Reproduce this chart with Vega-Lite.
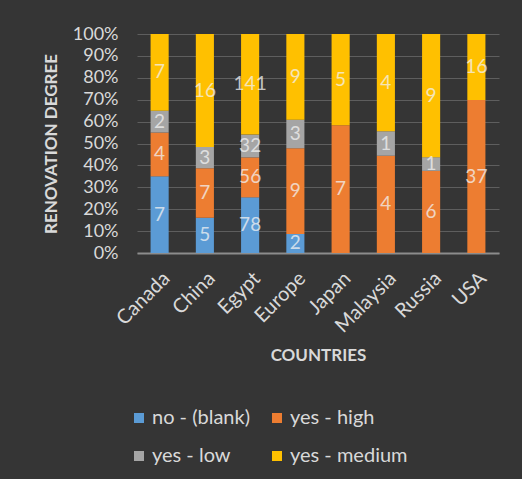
{
  "$schema": "https://vega.github.io/schema/vega-lite/v6.json",
  "width": 362,
  "height": 219,
  "autosize": {"type": "none"},
  "padding": {"left": 137, "top": 34, "right": 23, "bottom": 226},
  "background": "#353535",
  "config": {
    "font": "Lato",
    "view": {"stroke": null},
    "axis": {"labelColor": "#d9d9d9", "titleColor": "#d9d9d9", "labelFont": "Lato", "titleFont": "Lato"},
    "legend": {"labelColor": "#d9d9d9", "labelFont": "Lato"}
  },
  "data": {
    "values": [
      {"country": "Canada", "cat": "no - (blank)", "k": 1, "n": 7},
      {"country": "Canada", "cat": "yes - high", "k": 2, "n": 4},
      {"country": "Canada", "cat": "yes - low", "k": 3, "n": 2},
      {"country": "Canada", "cat": "yes - medium", "k": 4, "n": 7},
      {"country": "China", "cat": "no - (blank)", "k": 1, "n": 5},
      {"country": "China", "cat": "yes - high", "k": 2, "n": 7},
      {"country": "China", "cat": "yes - low", "k": 3, "n": 3},
      {"country": "China", "cat": "yes - medium", "k": 4, "n": 16},
      {"country": "Egypt", "cat": "no - (blank)", "k": 1, "n": 78},
      {"country": "Egypt", "cat": "yes - high", "k": 2, "n": 56},
      {"country": "Egypt", "cat": "yes - low", "k": 3, "n": 32},
      {"country": "Egypt", "cat": "yes - medium", "k": 4, "n": 141},
      {"country": "Europe", "cat": "no - (blank)", "k": 1, "n": 2},
      {"country": "Europe", "cat": "yes - high", "k": 2, "n": 9},
      {"country": "Europe", "cat": "yes - low", "k": 3, "n": 3},
      {"country": "Europe", "cat": "yes - medium", "k": 4, "n": 9},
      {"country": "Japan", "cat": "yes - high", "k": 2, "n": 7},
      {"country": "Japan", "cat": "yes - medium", "k": 4, "n": 5},
      {"country": "Malaysia", "cat": "yes - high", "k": 2, "n": 4},
      {"country": "Malaysia", "cat": "yes - low", "k": 3, "n": 1},
      {"country": "Malaysia", "cat": "yes - medium", "k": 4, "n": 4},
      {"country": "Russia", "cat": "yes - high", "k": 2, "n": 6},
      {"country": "Russia", "cat": "yes - low", "k": 3, "n": 1},
      {"country": "Russia", "cat": "yes - medium", "k": 4, "n": 9},
      {"country": "USA", "cat": "yes - high", "k": 2, "n": 37},
      {"country": "USA", "cat": "yes - medium", "k": 4, "n": 16}
    ]
  },
  "encoding": {
    "x": {
      "field": "country", "type": "nominal", "sort": null,
      "scale": {"paddingInner": 0.6, "paddingOuter": 0.3},
      "axis": {
        "title": "COUNTRIES", "titleFontSize": 17, "titleFontWeight": "bold",
        "titleY": 102, "titleBaseline": "middle",
        "labelAngle": -45, "labelFontSize": 20, "labelPadding": 15,
        "ticks": false, "domainColor": "#8c8c8c", "domainWidth": 2
      }
    },
    "y": {
      "field": "n", "type": "quantitative", "stack": "normalize",
      "scale": {"domain": [0, 1]},
      "axis": {
        "title": "RENOVATION DEGREE", "titleFontSize": 17, "titleFontWeight": "bold",
        "titleX": -86, "titleY": 109.5, "titleBaseline": "middle", "titleAlign": "center", "titleAngle": -90,
        "format": ".0%", "values": [0, 0.1, 0.2, 0.3, 0.4, 0.5, 0.6, 0.7, 0.8, 0.9, 1],
        "labelOverlap": false,
        "labelFontSize": 18, "labelPadding": 19, "ticks": false, "domain": false,
        "gridColor": "#5e5e5e", "gridWidth": 1
      }
    },
    "order": {"field": "k", "type": "quantitative", "sort": "ascending"}
  },
  "layer": [
    {
      "mark": {"type": "bar"},
      "encoding": {
        "color": {
          "field": "cat", "type": "nominal",
          "scale": {
            "domain": ["no - (blank)", "yes - high", "yes - low", "yes - medium"],
            "range": ["#5b9bd5", "#ed7d31", "#a5a5a5", "#ffc000"]
          },
          "legend": {
            "title": null, "orient": "none", "legendX": -8, "legendY": 374,
            "direction": "horizontal",
            "columns": 2, "symbolType": "square", "symbolSize": 100,
            "symbolStrokeWidth": 0, "labelFontSize": 20, "labelOffset": 3,
            "rowPadding": 18, "columnPadding": 16
          }
        }
      }
    },
    {
      "mark": {"type": "text", "fontSize": 19, "color": "#f2f2f2", "opacity": 0.75},
      "encoding": {
        "y": {"field": "n", "type": "quantitative", "stack": "normalize", "bandPosition": 0.5},
        "text": {"field": "n", "type": "quantitative"}
      }
    }
  ]
}
